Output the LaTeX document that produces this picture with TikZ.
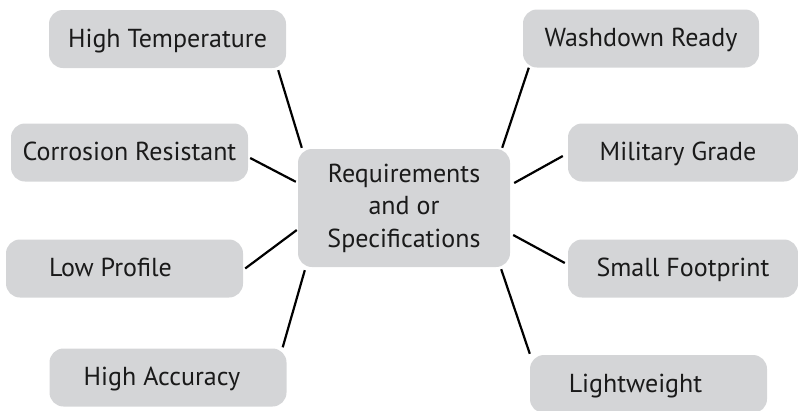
\documentclass[tikz,border=0pt]{standalone}
\usepackage{fontspec}
\setmainfont{PT Sans}
\usetikzlibrary{positioning}
\definecolor{boxgray}{RGB}{212,213,215}
\definecolor{inkgray}{RGB}{26,26,26}

\begin{document}
\begin{tikzpicture}[x=1pt, y=-1pt]
\tikzstyle{feature}=[fill=boxgray, rounded corners=14pt, inner sep=0pt, text=inkgray, font=\fontsize{26}{32.5}\selectfont]
\tikzstyle{single}=[feature, minimum height=58pt, text height=20pt, text depth=4pt]
\tikzstyle{spoke}=[black, line width=2.2pt]
\useasboundingbox (0,0) rectangle (798,410);
% centre box
\node [feature, minimum width=212pt, minimum height=118pt, align=center] (req) at (404,208) {Requirements\\and or\\Specifications};
% left column
\node [single, minimum width=237pt] (hightemp) at (167.5,39) {High Temperature};
\node [single, minimum width=237pt] (corrosion) at (129.5,152.5) {Corrosion Resistant};
\node [single, minimum width=237pt] (lowprof) at (124.5,268.5) {Low Profile\hspace*{28pt}};
\node [single, minimum width=237pt] (accuracy) at (168,377.5) {High Accuracy\hspace*{12pt}};
% right column
\node [single, minimum width=236pt] (washdown) at (641,38.5) {Washdown Ready};
\node [single, minimum width=230pt] (military) at (683,152.5) {Military Grade\hspace*{10pt}};
\node [single, minimum width=230pt] (footprint) at (683,268.5) {Small Footprint};
\node [single, minimum width=237pt] (light) at (648.5,384) {Lightweight\hspace*{26pt}};
% spokes
\draw [spoke] ([shift={(-8,2)}]hightemp.south east) -- ([shift={(4,-1)}]req.north west);
\draw [spoke] ([shift={(2,5.5)}]corrosion.east) -- ([shift={(-2,33)}]req.north west);
\draw [spoke] ([shift={(2,0)}]lowprof.east) -- ([shift={(-1,22)}]req.west);
\draw [spoke] ([shift={(-4,-1)}]accuracy.north east) -- ([shift={(7,3)}]req.south west);
\draw [spoke] ([shift={(6,0)}]washdown.south west) -- ([shift={(-8,-1)}]req.north east);
\draw [spoke] ([shift={(-5,3.5)}]military.west) -- ([shift={(4,-25)}]req.east);
\draw [spoke] ([shift={(-3,-5.5)}]footprint.west) -- ([shift={(3,27)}]req.east);
\draw [spoke] ([shift={(0,-1)}]light.north west) -- ([shift={(-9,2)}]req.south east);
\end{tikzpicture}
\end{document}
